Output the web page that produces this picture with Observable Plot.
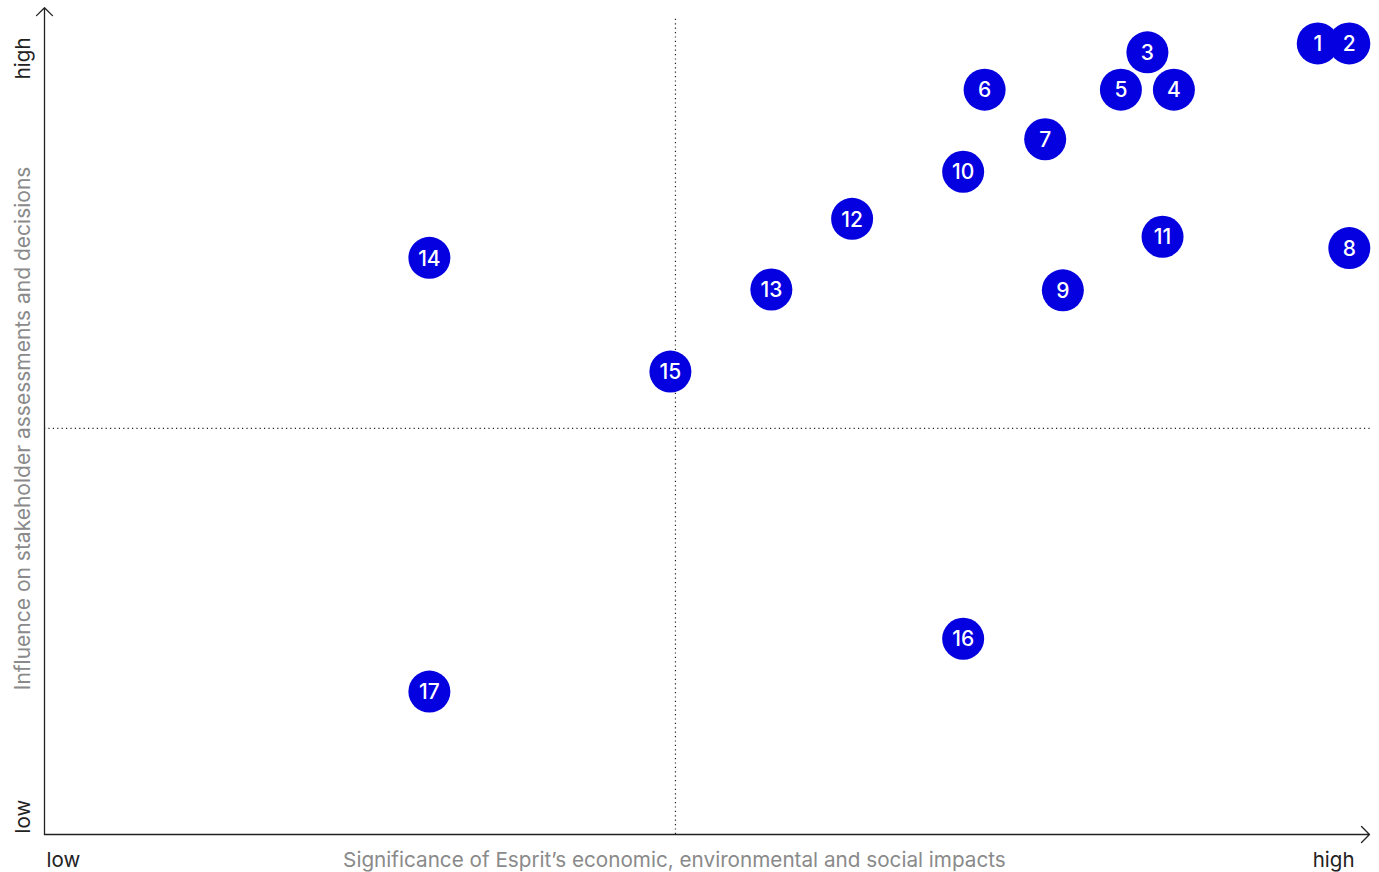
<!DOCTYPE html>
<html>
<head>
<meta charset="utf-8">
<script src="https://cdn.jsdelivr.net/npm/d3@7"></script>
<script src="https://cdn.jsdelivr.net/npm/@observablehq/plot@0.6"></script>
<style>
  html, body { margin: 0; padding: 0; background: #fff; }
  #chart svg { display: block; }
</style>
</head>
<body>
<div id="chart"></div>
<script>
// Topic numbers
const ids = ["1","2","3","4","5","6","7","8","9","10","11","12","13","14","15","16","17"];
// Significance of impacts (x, 0..105 scale, midline = 50)
const significance = [100.9, 103.4, 87.4, 89.5, 85.3, 74.5, 79.3, 103.4, 80.7, 72.8, 88.6, 64.0, 57.6, 30.5, 49.6, 72.8, 30.5];
// Influence on stakeholders (y, 0..101.7 scale, midline = 50)
const influence = [97.4, 97.4, 96.3, 91.7, 91.7, 91.7, 85.6, 72.2, 67.0, 81.6, 73.6, 75.8, 67.1, 71.0, 57.0, 24.1, 17.6];

const xTitle = "Significance of Esprit\u2019s economic, environmental and social impacts";
const yTitle = "Influence on stakeholder assessments and decisions";
const lowLabel = "low";
const highLabel = "high";

const points = ids.map((id, i) => ({id, x: significance[i], y: influence[i]}));

const XMAX = 105, YMAX = 101.7;
const blue = "#0400e0";
const font = "Inter, 'Liberation Sans', sans-serif";

const chart = Plot.plot({
  width: 1379,
  height: 872,
  marginLeft: 44,
  marginRight: 10,
  marginTop: 8,
  marginBottom: 38,
  x: {domain: [0, XMAX], axis: null},
  y: {domain: [0, YMAX], axis: null},
  style: {fontFamily: font, background: "#fff"},
  marks: [
    // quadrant dotted lines
    Plot.ruleX([50], {y1: 0, y2: 100.5, stroke: "#222", strokeWidth: 1.2, strokeDasharray: "1.2,3.2"}),
    Plot.ruleY([50], {x1: 0, x2: XMAX + 0.25, stroke: "#222", strokeWidth: 1.2, strokeDasharray: "1.2,3.2", clip: false}),
    // axes with arrows
    Plot.arrow([{x1: 0, y1: 0, x2: 0, y2: YMAX + 0.1}], {x1: "x1", y1: "y1", x2: "x2", y2: "y2", stroke: "#222", strokeWidth: 1.3, headAngle: 90, headLength: 13}),
    Plot.arrow([{x1: 0, y1: 0, x2: XMAX, y2: 0}], {x1: "x1", y1: "y1", x2: "x2", y2: "y2", stroke: "#222", strokeWidth: 1.3, headAngle: 90, headLength: 13}),
    // axis end labels
    Plot.text([lowLabel], {x: 0, y: 0, text: d => d, dx: 2, dy: 26, fontSize: 20.5, fill: "#222", textAnchor: "start"}),
    Plot.text([highLabel], {x: XMAX, y: 0, text: d => d, dx: -15, dy: 26, fontSize: 20.5, fill: "#222", textAnchor: "end"}),
    Plot.text([lowLabel], {x: 0, y: 0, text: d => d, rotate: -90, dx: -21, dy: -1, fontSize: 20.5, fill: "#222", textAnchor: "start"}),
    Plot.text([highLabel], {x: 0, y: YMAX, text: d => d, rotate: -90, dx: -21, dy: 29, fontSize: 20.5, fill: "#222", textAnchor: "end"}),
    // axis titles
    Plot.text([xTitle], {x: 50, y: 0, text: d => d, dy: 26, dx: -1, fontSize: 20.7, fill: "#8a8a8a"}),
    Plot.text([yTitle], {x: 0, y: 50, text: d => d, rotate: -90, dx: -21, fontSize: 21, fill: "#8a8a8a"}),
    // points
    Plot.dot(points, {x: "x", y: "y", r: 21, fill: blue, stroke: "none"}),
    Plot.text(points, {x: "x", y: "y", text: "id", dy: 1, fill: "#fff", fontSize: 21, fontWeight: 500})
  ]
});

document.getElementById("chart").append(chart);
</script>
</body>
</html>
